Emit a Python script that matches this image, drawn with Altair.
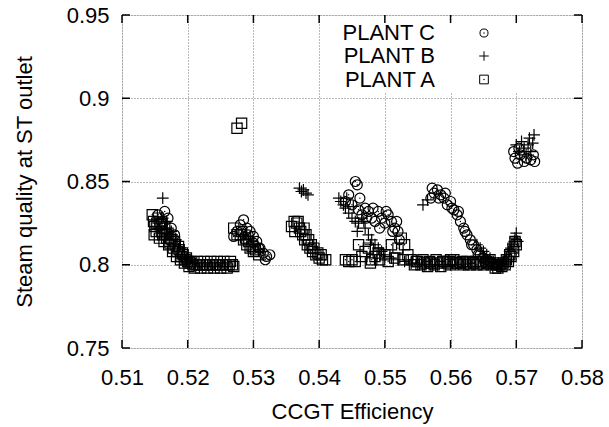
import altair as alt
import pandas as pd

# ---------------- data ----------------
series_names = ["PLANT C", "PLANT B", "PLANT A"]
x_ticks = [0.51, 0.52, 0.53, 0.54, 0.55, 0.56, 0.57, 0.58]
y_ticks = [0.75, 0.8, 0.85, 0.9, 0.95]

plant_a_x = [0.5148, 0.5150, 0.5152, 0.5155, 0.5158, 0.5160, 0.5162, 0.5165, 0.5168, 0.5170,
             0.5173, 0.5176, 0.5178, 0.5181, 0.5184, 0.5187, 0.5190, 0.5193, 0.5196, 0.5200,
             0.5204, 0.5208, 0.5213, 0.5218, 0.5223, 0.5228, 0.5233, 0.5238, 0.5243, 0.5248,
             0.5253, 0.5258, 0.5263, 0.5268, 0.5275, 0.5282,
             0.5280, 0.5285, 0.5290, 0.5295, 0.5300,
             0.5362, 0.5366, 0.5370, 0.5375, 0.5378, 0.5382, 0.5386, 0.5390, 0.5395, 0.5400,
             0.5405, 0.5410,
             0.5440, 0.5445, 0.5450, 0.5455, 0.5460, 0.5465, 0.5470, 0.5475, 0.5480, 0.5485,
             0.5490, 0.5500, 0.5510, 0.5520, 0.5525, 0.5530, 0.5535,
             0.5540, 0.5550, 0.5560, 0.5570, 0.5580, 0.5590, 0.5595, 0.5600, 0.5605, 0.5610,
             0.5660, 0.5665, 0.5670, 0.5675, 0.5680, 0.5685, 0.5690, 0.5695, 0.5698,
             0.5146, 0.5149, 0.5153, 0.5157, 0.5161, 0.5164, 0.5167, 0.5171, 0.5174, 0.5177,
             0.5180, 0.5183, 0.5186, 0.5189, 0.5192, 0.5195, 0.5198, 0.5202, 0.5206, 0.5210,
             0.5215, 0.5220, 0.5225, 0.5230, 0.5235, 0.5240, 0.5245, 0.5250, 0.5255, 0.5260,
             0.5265, 0.5270,
             0.5270, 0.5275, 0.5282, 0.5288, 0.5293, 0.5298, 0.5303, 0.5308,
             0.5358, 0.5363, 0.5368, 0.5372, 0.5377, 0.5380, 0.5384, 0.5388, 0.5392, 0.5398,
             0.5403,
             0.5545, 0.5555, 0.5565, 0.5575, 0.5585, 0.5600, 0.5615, 0.5620, 0.5625, 0.5630,
             0.5635, 0.5640, 0.5645, 0.5650, 0.5655,
             0.5662, 0.5668, 0.5672, 0.5678, 0.5683, 0.5688, 0.5692, 0.5696, 0.5700,
             0.5478, 0.5492, 0.5505, 0.5515, 0.5528, 0.5548, 0.5558, 0.5568, 0.5578, 0.5588,
             0.5598, 0.5608, 0.5618, 0.5628, 0.5638, 0.5648, 0.5658]
plant_a_y = [0.826, 0.823, 0.820, 0.828, 0.824, 0.820, 0.818, 0.822, 0.816, 0.819,
             0.813, 0.815, 0.810, 0.812, 0.808, 0.809, 0.805, 0.806, 0.803, 0.802,
             0.801, 0.800, 0.800, 0.800, 0.800, 0.800, 0.800, 0.800, 0.800, 0.800,
             0.800, 0.800, 0.800, 0.800, 0.882, 0.885,
             0.818, 0.815, 0.812, 0.810, 0.808,
             0.826, 0.825, 0.822, 0.818, 0.815, 0.812, 0.810, 0.808, 0.806, 0.804,
             0.803, 0.803,
             0.803, 0.802, 0.803, 0.802, 0.812, 0.805, 0.808, 0.810, 0.803, 0.805,
             0.807, 0.806, 0.812, 0.810, 0.816, 0.812, 0.806,
             0.803, 0.802, 0.801, 0.801, 0.801, 0.802, 0.801, 0.803, 0.803, 0.801,
             0.803, 0.801, 0.800, 0.800, 0.801, 0.803, 0.806, 0.810, 0.814,
             0.830, 0.818, 0.825, 0.816, 0.825, 0.814, 0.818, 0.812, 0.816, 0.808,
             0.814, 0.805, 0.811, 0.803, 0.807, 0.801, 0.804, 0.799, 0.802, 0.798,
             0.802, 0.798, 0.802, 0.798, 0.802, 0.798, 0.802, 0.798, 0.802, 0.798,
             0.802, 0.799,
             0.822, 0.818, 0.820, 0.816, 0.814, 0.811, 0.809, 0.806,
             0.823, 0.820, 0.826, 0.820, 0.822, 0.818, 0.815, 0.812, 0.810, 0.807,
             0.806,
             0.800, 0.800, 0.799, 0.800, 0.799, 0.800, 0.801, 0.800, 0.802, 0.800,
             0.801, 0.800, 0.801, 0.800, 0.801,
             0.800, 0.798, 0.798, 0.799, 0.800, 0.802, 0.805, 0.808, 0.812,
             0.801, 0.803, 0.802, 0.804, 0.803, 0.802, 0.803, 0.802, 0.803, 0.802,
             0.802, 0.801, 0.802, 0.801, 0.802, 0.802, 0.801]

plant_b_x = [0.5162, 0.5160, 0.5168, 0.5175, 0.5182, 0.5188, 0.5195, 0.5200, 0.5210,
             0.5290, 0.5300, 0.5310,
             0.5370, 0.5373, 0.5376, 0.5380, 0.5383,
             0.5430, 0.5433, 0.5437, 0.5440, 0.5445, 0.5450, 0.5455, 0.5460, 0.5465, 0.5470,
             0.5475, 0.5480, 0.5485, 0.5490, 0.5495, 0.5500, 0.5510, 0.5520, 0.5530, 0.5540,
             0.5550, 0.5560, 0.5570, 0.5580, 0.5590, 0.5600, 0.5610, 0.5620, 0.5630,
             0.5558, 0.5565, 0.5640, 0.5645, 0.5650, 0.5655, 0.5660, 0.5665, 0.5670, 0.5675,
             0.5680, 0.5685, 0.5690, 0.5695, 0.5698, 0.5700, 0.5702,
             0.5700, 0.5705, 0.5708, 0.5712, 0.5715, 0.5718, 0.5722, 0.5725, 0.5727, 0.5720,
             0.5150, 0.5155, 0.5165, 0.5172, 0.5178, 0.5185, 0.5192,
             0.5442, 0.5452, 0.5458, 0.5468, 0.5478, 0.5488,
             0.5672, 0.5678, 0.5683, 0.5688, 0.5692, 0.5697]
plant_b_y = [0.840, 0.828, 0.826, 0.820, 0.815, 0.810, 0.806, 0.803, 0.801,
             0.816, 0.812, 0.808,
             0.846, 0.844, 0.845, 0.843, 0.842,
             0.840, 0.838, 0.836, 0.834, 0.831, 0.828, 0.826, 0.825, 0.828, 0.822,
             0.818, 0.815, 0.812, 0.810, 0.808, 0.806, 0.804, 0.803, 0.802, 0.801,
             0.801, 0.800, 0.800, 0.800, 0.800, 0.800, 0.800, 0.800, 0.801,
             0.836, 0.839, 0.812, 0.810, 0.808, 0.806, 0.804, 0.802, 0.800, 0.801,
             0.802, 0.804, 0.808, 0.812, 0.816, 0.819, 0.814,
             0.872, 0.868, 0.874, 0.870, 0.866, 0.872, 0.868, 0.873, 0.878, 0.876,
             0.826, 0.822, 0.822, 0.818, 0.812, 0.808, 0.804,
             0.840, 0.835, 0.820, 0.826, 0.812, 0.806,
             0.799, 0.800, 0.801, 0.805, 0.810, 0.814]

plant_c_x = [0.5155, 0.5160, 0.5165, 0.5170, 0.5175, 0.5180,
             0.5275, 0.5280, 0.5285, 0.5290, 0.5295, 0.5300, 0.5305, 0.5310, 0.5315, 0.5320,
             0.5325,
             0.5455, 0.5458, 0.5445, 0.5440, 0.5450, 0.5460, 0.5465, 0.5470, 0.5475, 0.5480,
             0.5485, 0.5490, 0.5495, 0.5500, 0.5505, 0.5510, 0.5515, 0.5520,
             0.5570, 0.5575, 0.5580, 0.5585, 0.5590, 0.5595, 0.5600, 0.5605, 0.5610, 0.5615,
             0.5620, 0.5625, 0.5630, 0.5635, 0.5640, 0.5645, 0.5650, 0.5655, 0.5660, 0.5665,
             0.5670,
             0.5696, 0.5698, 0.5702, 0.5706, 0.5712, 0.5716, 0.5722, 0.5726, 0.5728, 0.5704,
             0.5270, 0.5282, 0.5292, 0.5300, 0.5308, 0.5318,
             0.5462, 0.5472, 0.5482, 0.5492, 0.5502, 0.5512, 0.5518, 0.5522,
             0.5572, 0.5582, 0.5592, 0.5602, 0.5612, 0.5622, 0.5632, 0.5642, 0.5652]
plant_c_y = [0.830, 0.826, 0.832, 0.828, 0.822, 0.818,
             0.820, 0.824, 0.827, 0.822, 0.820, 0.817, 0.814, 0.810, 0.807, 0.805,
             0.806,
             0.850, 0.848, 0.842, 0.838, 0.836, 0.833, 0.830, 0.834, 0.832, 0.828,
             0.826, 0.832, 0.828, 0.825, 0.830, 0.826, 0.822, 0.820,
             0.840, 0.843, 0.845, 0.842, 0.840, 0.836, 0.838, 0.833, 0.830, 0.826,
             0.822, 0.818, 0.815, 0.812, 0.809, 0.806, 0.804, 0.803, 0.802, 0.801,
             0.800,
             0.868, 0.864, 0.861, 0.866, 0.862, 0.864, 0.863, 0.866, 0.862, 0.870,
             0.817, 0.820, 0.818, 0.813, 0.810, 0.803,
             0.840, 0.828, 0.834, 0.822, 0.832, 0.820, 0.826, 0.815,
             0.846, 0.840, 0.843, 0.834, 0.832, 0.820, 0.812, 0.806, 0.802]

# ---------------- styling ----------------
W, H = 460, 333
FONT = "Liberation Sans"
FS = 22
PLUS = "M-1,0L1,0M0,-1L0,1"
INK = "#000000"
MSW = 1.2

a_df = pd.DataFrame({"x": plant_a_x, "y": plant_a_y})
b_df = pd.DataFrame({"x": plant_b_x, "y": plant_b_y})
c_df = pd.DataFrame({"x": plant_c_x, "y": plant_c_y})

xscale = alt.Scale(domain=[x_ticks[0], x_ticks[-1]], nice=False, zero=False)
yscale = alt.Scale(domain=[y_ticks[0], y_ticks[-1]], nice=False, zero=False)

x_axis = alt.Axis(values=x_ticks, format=".2f", title="CCGT Efficiency",
                  ticks=False, tickSize=0, domain=False, labelPadding=19,
                  labelFlush=False, labelOverlap=False,
                  grid=True, gridDash=[1, 2], gridColor="#777777", gridWidth=1,
                  labelFont=FONT, labelFontSize=FS, labelColor=INK,
                  titleFont=FONT, titleFontSize=FS, titleFontWeight="normal", titleColor=INK,
                  titleX=W / 2, titleY=70, titleAlign="center", titleBaseline="alphabetic")
y_axis = alt.Axis(values=y_ticks, format=".2~f", title="Steam quality at ST outlet",
                  ticks=False, tickSize=0, domain=False, labelPadding=13,
                  labelFlush=False, labelOverlap=False,
                  grid=True, gridDash=[1, 2], gridColor="#777777", gridWidth=1,
                  labelFont=FONT, labelFontSize=FS, labelColor=INK,
                  titleFont=FONT, titleFontSize=FS, titleFontWeight="normal", titleColor=INK,
                  titleX=-98, titleY=H / 2, titleAngle=-90, titleAlign="center",
                  titleBaseline="middle")

X = alt.X("x:Q", scale=xscale, axis=x_axis)
Y = alt.Y("y:Q", scale=yscale, axis=y_axis)

sq = alt.Chart(a_df).mark_point(shape="square", size=105, filled=False, color=INK,
                                strokeWidth=MSW, opacity=1).encode(x=X, y=Y)
pl = alt.Chart(b_df).mark_point(shape=PLUS, size=140, filled=False, color=INK,
                                strokeWidth=MSW, opacity=1).encode(x=X, y=Y)
ci = alt.Chart(c_df).mark_point(shape="circle", size=100, filled=False, color=INK,
                                strokeWidth=MSW, opacity=1).encode(x=X, y=Y)
dots_a = alt.Chart(a_df).mark_circle(size=2, color=INK, opacity=1).encode(x=X, y=Y)
dots_c = alt.Chart(c_df).mark_circle(size=2, color=INK, opacity=1).encode(x=X, y=Y)

# inward ticks on all four sides
xt_df = pd.DataFrame({"x": x_ticks})
yt_df = pd.DataFrame({"y": y_ticks})
tick_bot = alt.Chart(xt_df).mark_rule(color=INK, strokeWidth=1.5).encode(
    x=X, y=alt.value(H), y2=alt.value(H - 8))
tick_top = alt.Chart(xt_df).mark_rule(color=INK, strokeWidth=1.5).encode(
    x=X, y=alt.value(0), y2=alt.value(8))
tick_left = alt.Chart(yt_df).mark_rule(color=INK, strokeWidth=1.5).encode(
    y=Y, x=alt.value(0), x2=alt.value(8))
tick_right = alt.Chart(yt_df).mark_rule(color=INK, strokeWidth=1.5).encode(
    y=Y, x=alt.value(W), x2=alt.value(W - 8))

# legend (key) box: opaque background, text right-aligned, symbol to the right
key_df = pd.DataFrame({"label": series_names[:1]})
key_bg = alt.Chart(key_df).mark_rect(fill="white").encode(
    x=alt.value(206), x2=alt.value(410), y=alt.value(2), y2=alt.value(77))

key_layers = []
rows_y = [18, 41, 64.5]
shapes = ["circle", PLUS, "square"]
sizes = [65, 90, 75]
for i, name in enumerate(series_names):
    d = pd.DataFrame({"label": [name]})
    key_layers.append(
        alt.Chart(d).mark_text(align="right", baseline="middle", font=FONT, fontSize=FS,
                               color=INK).encode(
            x=alt.value(313), y=alt.value(rows_y[i]), text="label:N"))
    key_layers.append(
        alt.Chart(d).mark_point(shape=shapes[i], size=sizes[i], filled=False, color=INK,
                                strokeWidth=1, opacity=1).encode(
            x=alt.value(362), y=alt.value(rows_y[i])))
    if shapes[i] != PLUS:
        key_layers.append(
            alt.Chart(d).mark_circle(size=2, color=INK, opacity=1).encode(
                x=alt.value(362), y=alt.value(rows_y[i])))

chart = alt.layer(
    sq, dots_a, pl, ci, dots_c, key_bg, *key_layers,
    tick_bot, tick_top, tick_left, tick_right,
).properties(
    width=W, height=H,
    padding={"left": 122, "top": 15, "right": 27, "bottom": 79},
    autosize=alt.AutoSizeParams(type="none"),
).configure_view(
    stroke=INK, strokeWidth=1.5
).configure(background="white")

chart.save("out.html", embed_options={"renderer": "svg", "actions": False})
